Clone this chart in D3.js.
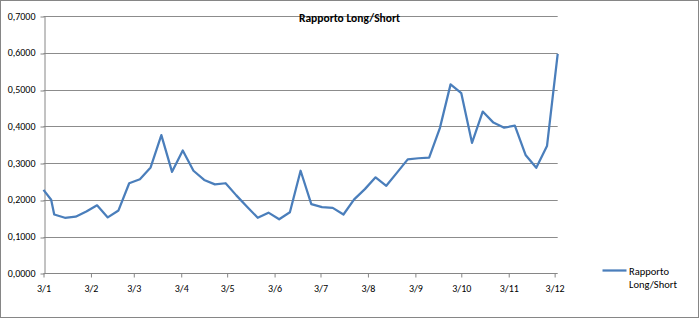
<!DOCTYPE html>
<html><head><meta charset="utf-8">
<script src="https://cdn.jsdelivr.net/npm/d3@7"></script>
<style>body{margin:0;background:#fff}svg{display:block}text{font-family:Carlito,Calibri,Lato,"Open Sans",sans-serif}</style>
</head><body><svg id="c" width="700" height="319"></svg>
<script>
const dates = ["2003-01-01","2003-01-06","2003-01-08","2003-01-15","2003-01-22","2003-01-29","2003-02-05","2003-02-12","2003-02-19","2003-02-26",
"2003-03-05","2003-03-12","2003-03-19","2003-03-26","2003-04-02","2003-04-09","2003-04-16","2003-04-23","2003-04-30",
"2003-05-07","2003-05-14","2003-05-21","2003-05-28","2003-06-04","2003-06-11","2003-06-18","2003-06-25",
"2003-07-02","2003-07-09","2003-07-16","2003-07-23","2003-07-30","2003-08-06","2003-08-13","2003-08-20","2003-08-27",
"2003-09-03","2003-09-10","2003-09-17","2003-09-24","2003-10-01","2003-10-08","2003-10-15","2003-10-22","2003-10-29",
"2003-11-05","2003-11-12","2003-11-19","2003-11-26","2003-12-03"];
const values = [0.227,0.200,0.160,0.151,0.154,0.168,0.185,0.152,0.171,0.245,
0.256,0.288,0.376,0.276,0.334,0.279,0.254,0.242,0.245,
0.212,0.181,0.151,0.165,0.147,0.166,0.279,0.188,
0.180,0.178,0.160,0.201,0.229,0.261,0.238,0.274,0.310,
0.313,0.315,0.395,0.514,0.490,0.355,0.440,0.410,0.396,
0.402,0.322,0.287,0.346,0.597];
const tickDates = ["2003-01-01","2003-02-01","2003-03-01","2003-04-01","2003-05-01","2003-06-01","2003-07-01","2003-08-01","2003-09-01","2003-10-01","2003-11-01","2003-12-01"];
const tickLabels = ["3/1","3/2","3/3","3/4","3/5","3/6","3/7","3/8","3/9","3/10","3/11","3/12"];
const yTicks = [0,0.1,0.2,0.3,0.4,0.5,0.6,0.7];
const seriesName = "Rapporto Long/Short";
const title = "Rapporto Long/Short";

const parse = d3.utcParse("%Y-%m-%d");
const data = dates.map((d,i)=>({date:parse(d), v:values[i]}));
const svg = d3.select("#c");
const L=43.5, R=557.7, T=16, B=273.3;
const x = d3.scaleUtc().domain(d3.extent(data,d=>d.date)).range([L,R]);
const y = d3.scaleLinear().domain([0,0.7]).range([B,T]);

svg.append("rect").attr("x",0.5).attr("y",0.5).attr("width",698).attr("height",317)
  .attr("fill","#fff").attr("stroke","#868686");

// gridlines
svg.append("g").selectAll("line").data(yTicks.filter(t=>t>0)).join("line")
  .attr("x1",L).attr("x2",R).attr("y1",d=>Math.round(y(d))+0.5).attr("y2",d=>Math.round(y(d))+0.5)
  .attr("stroke","#8c8c8c").attr("stroke-width",1);

// y axis
const fmt = d => d.toFixed(4).replace(".",",");
const ya = svg.append("g").attr("transform",`translate(${Math.round(L)+0.5},0)`)
  .call(d3.axisLeft(y).tickValues(yTicks).tickFormat(fmt).tickSize(4).tickPadding(5).tickSizeOuter(0));
ya.select(".domain").attr("stroke","#868686");
ya.selectAll(".tick line").attr("stroke","#868686").attr("transform",d=>`translate(0,${Math.round(y(d))+0.5-y(d)})`);
ya.selectAll(".tick text").attr("font-size","10px").attr("fill","#000").attr("font-family","Carlito,Calibri,Lato,sans-serif");

// x axis
const xa = svg.append("g").attr("transform",`translate(0,${Math.round(B)+0.5})`)
  .call(d3.axisBottom(x).tickValues(tickDates.map(parse)).tickFormat((d,i)=>tickLabels[i]).tickSize(4).tickPadding(7).tickSizeOuter(0));
xa.select(".domain").attr("stroke","#868686").attr("d",`M${L},0H${R}`);
xa.selectAll(".tick line").attr("stroke","#868686");
xa.selectAll(".tick text").attr("font-size","10px").attr("fill","#000").attr("font-family","Carlito,Calibri,Lato,sans-serif");

// line
svg.append("path").datum(data)
  .attr("d",d3.line().x(d=>x(d.date)).y(d=>y(d.v)))
  .attr("fill","none").attr("stroke","#4a7ebb").attr("stroke-width",2.25).attr("stroke-linejoin","round");

// title
svg.append("text").attr("x",349.5).attr("y",21.5).attr("text-anchor","middle")
  .attr("font-size","11.5px").attr("font-weight","bold").text(title);

// legend
svg.append("line").attr("x1",602.5).attr("x2",626.5).attr("y1",270.5).attr("y2",270.5)
  .attr("stroke","#4a7ebb").attr("stroke-width",2.25);
const parts = seriesName.split(" ");
svg.append("text").attr("x",629).attr("y",274.5).attr("font-size","10.5px").text(parts[0]);
svg.append("text").attr("x",629).attr("y",288).attr("font-size","10.5px").text(parts[1]);
</script></body></html>
